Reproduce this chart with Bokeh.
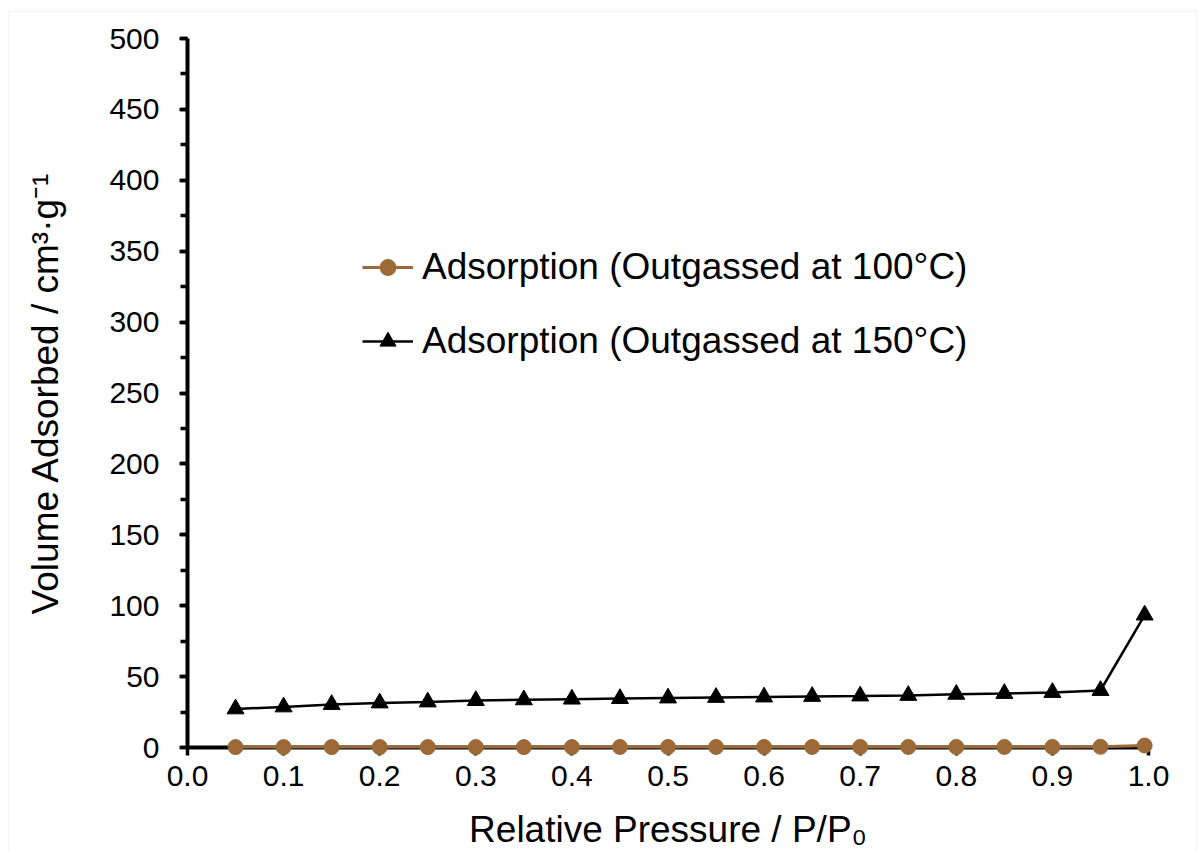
from bokeh.plotting import figure
from bokeh.embed import file_html
from bokeh.resources import INLINE
from bokeh.models import (Range1d, SingleIntervalTicker, PrintfTickFormatter,
                          Legend, LegendItem, BoxAnnotation, LinearAxis)

# ---- data ----
rel_pressure = [0.05, 0.10, 0.15, 0.20, 0.25, 0.30, 0.35, 0.40, 0.45, 0.50,
                0.55, 0.60, 0.65, 0.70, 0.75, 0.80, 0.85, 0.90, 0.95, 0.996]
ads_100C = [0.3, 0.3, 0.3, 0.3, 0.3, 0.3, 0.3, 0.3, 0.4, 0.4,
            0.4, 0.4, 0.4, 0.4, 0.4, 0.4, 0.4, 0.4, 0.5, 1.4]
ads_150C = [27.2, 28.6, 30.3, 31.4, 32.1, 33.1, 33.6, 34.1, 34.5, 34.9,
            35.3, 35.6, 36.0, 36.3, 36.7, 37.5, 38.1, 38.8, 40.2, 93.4]
series_names = ["Adsorption (Outgassed at 100°C)", "Adsorption (Outgassed at 150°C)"]
x_title = "Relative Pressure / P/P₀"
y_title = "Volume Adsorbed / cm³·g⁻¹"
x_lim = (0.0, 1.0)
y_lim = (0, 500)

BROWN = "#9C6A38"
FONT = "Liberation Sans"

# ---- layout (pixels) ----
W, H = 1198, 850
AX_LEFT, AX_RIGHT = 187, 1148     # pixel of x=0 and x=1
AX_TOP, AX_BOTTOM = 38, 747       # pixel of y=500 and y=0
xs = (x_lim[1] - x_lim[0]) / (AX_RIGHT - AX_LEFT)
ys = (y_lim[1] - y_lim[0]) / (AX_BOTTOM - AX_TOP)
x_range = Range1d(x_lim[0] - AX_LEFT * xs, x_lim[1] + (W - AX_RIGHT) * xs)
y_range = Range1d(y_lim[0] - (H - AX_BOTTOM) * ys, y_lim[1] + AX_TOP * ys)

p = figure(width=W, height=H, output_backend="svg", toolbar_location=None,
           x_range=x_range, y_range=y_range,
           x_axis_type=None, y_axis_type=None,
           min_border=0, min_border_left=0, min_border_right=0,
           min_border_top=0, min_border_bottom=0)
p.outline_line_color = None
p.grid.grid_line_color = None
p.background_fill_color = "white"
p.border_fill_color = "white"

# outer light-grey frame of the picture (screen y counts from the bottom)
frame_box = BoxAnnotation(left=8, right=1196, top=H - 11, bottom=-50,
                          left_units="screen", right_units="screen",
                          top_units="screen", bottom_units="screen",
                          fill_alpha=0, line_color="#d9d9d9", line_width=1.5)
p.add_layout(frame_box)

# axes fixed at data zero
xa = LinearAxis(fixed_location=0, bounds=x_lim,
                ticker=SingleIntervalTicker(interval=0.1, num_minor_ticks=0),
                formatter=PrintfTickFormatter(format="%.1f"),
                axis_label=x_title)
ya = LinearAxis(fixed_location=0, bounds=y_lim,
                ticker=SingleIntervalTicker(interval=50, num_minor_ticks=2),
                axis_label=y_title)
p.add_layout(xa, "below")
p.add_layout(ya, "left")

for ax in (xa, ya):
    ax.axis_line_color = "black"
    ax.axis_line_width = 4
    ax.major_tick_line_color = "black"
    ax.major_tick_line_width = 3.5
    ax.minor_tick_line_color = "black"
    ax.minor_tick_line_width = 3.5
    ax.major_tick_in = 0
    ax.major_tick_out = 8
    ax.minor_tick_in = 0
    ax.minor_tick_out = 7
    ax.major_label_text_font = FONT
    ax.major_label_text_font_size = "30px"
    ax.major_label_text_color = "black"
    ax.axis_label_text_font = FONT
    ax.axis_label_text_font_size = "37px"
    ax.axis_label_text_font_style = "normal"
    ax.axis_label_text_color = "black"
    ax.level = "underlay"

xa.major_label_standoff = 10
ya.major_label_standoff = 20
xa.axis_label_standoff = 20
ya.axis_label_standoff = 40

# series
l100 = p.line(rel_pressure, ads_100C, line_color=BROWN, line_width=3)
s100 = p.scatter(rel_pressure, ads_100C, marker="circle", size=15,
                 fill_color=BROWN, line_color=BROWN)
l150 = p.line(rel_pressure, ads_150C, line_color="black", line_width=2.5)
s150 = p.scatter(rel_pressure, ads_150C, marker="triangle", size=17,
                 fill_color="black", line_color="black")

legend = Legend(items=[LegendItem(label=series_names[0], renderers=[l100, s100]),
                       LegendItem(label=series_names[1], renderers=[l150, s150])],
                location=(362, H - 362), orientation="vertical",
                padding=0, margin=0, spacing=32,
                glyph_width=51, glyph_height=40, label_height=40,
                label_standoff=9, border_line_color=None,
                background_fill_alpha=0,
                label_text_font=FONT, label_text_font_size="37px",
                label_text_color="black")
p.add_layout(legend)

open("out.html", "w").write(file_html(p, INLINE))
